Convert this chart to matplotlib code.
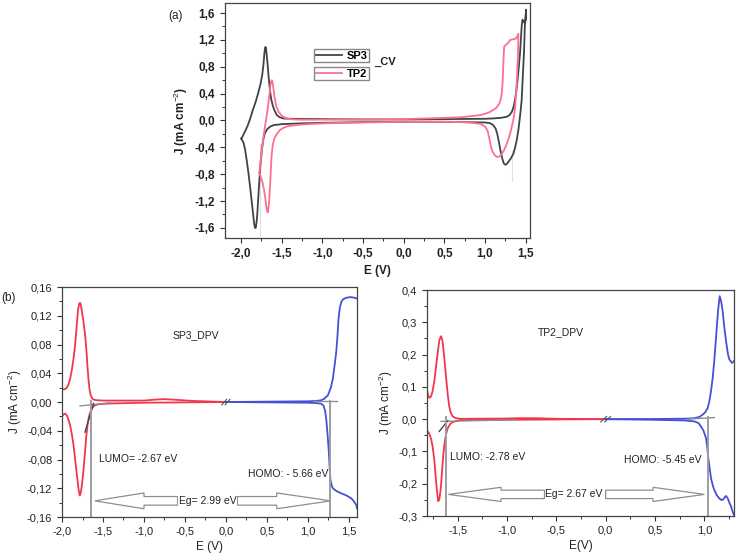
import numpy as np
import matplotlib
matplotlib.use("Agg")
import matplotlib.pyplot as plt
from matplotlib.ticker import FuncFormatter, AutoMinorLocator
from matplotlib.lines import Line2D

plt.rcParams['font.family'] = ['Liberation Sans', 'DejaVu Sans']
plt.rcParams['mathtext.fontset'] = 'custom'
plt.rcParams['mathtext.rm'] = 'Liberation Sans'
plt.rcParams['mathtext.it'] = 'Liberation Sans:italic'

# ---- (a) CV data ----
sp3_lo_x = [-1.997, -1.99, -1.97, -1.95, -1.93, -1.91, -1.89, -1.87, -1.85, -1.84, -1.83, -1.82, -1.81, -1.80, -1.79,
            -1.78, -1.77, -1.76, -1.745, -1.73, -1.71, -1.68, -1.64, -1.6, -1.5, -1.3, -1.0, -0.5, 0.0, 0.5,
            1.0, 1.06, 1.1, 1.13, 1.15, 1.17, 1.19, 1.21, 1.23, 1.25, 1.27, 1.29, 1.32, 1.35, 1.37, 1.39,
            1.41, 1.42, 1.435, 1.45, 1.46, 1.47, 1.48, 1.486, 1.49, 1.495, 1.50, 1.504]
sp3_lo_y = [-0.27, -0.29, -0.33, -0.44, -0.6, -0.78, -0.98, -1.2, -1.42, -1.53, -1.6, -1.6, -1.52, -1.38, -1.18,
            -0.98, -0.8, -0.63, -0.45, -0.3, -0.2, -0.13, -0.09, -0.07, -0.055, -0.045, -0.035, -0.025, -0.02, -0.02,
            -0.03, -0.04, -0.07, -0.12, -0.2, -0.32, -0.45, -0.56, -0.64, -0.66, -0.645, -0.61, -0.56, -0.49,
            -0.40, -0.29, -0.14, -0.04, 0.12, 0.30, 0.55, 0.80, 1.05, 1.29, 1.42, 1.5, 1.58, 1.65]
sp3_up_x = [1.504, 1.50, 1.49, 1.475, 1.46, 1.45, 1.44, 1.43, 1.415, 1.40, 1.385, 1.37, 1.35, 1.33, 1.30, 1.27,
            1.2, 1.1, 1.0, 0.5, 0.0, -0.5, -1.0, -1.4, -1.48, -1.53, -1.56, -1.59, -1.61, -1.63, -1.645, -1.66,
            -1.675, -1.687, -1.694, -1.70, -1.707, -1.715, -1.726, -1.74, -1.76, -1.787, -1.82, -1.86, -1.89,
            -1.92, -1.95, -1.975, -1.99, -1.997]
sp3_up_y = [1.65, 1.5, 1.45, 1.47, 1.5, 1.4, 1.2, 1.0, 0.8, 0.6, 0.45, 0.32, 0.2, 0.13, 0.08, 0.056,
            0.04, 0.03, 0.025, 0.02, 0.015, 0.015, 0.02, 0.025, 0.03, 0.05, 0.08, 0.15, 0.22, 0.32, 0.45, 0.63,
            0.85, 1.0, 1.08, 1.095, 1.07, 0.98, 0.82, 0.68, 0.55, 0.42, 0.28, 0.14, 0.02,
            -0.08, -0.16, -0.22, -0.255, -0.27]

tp2_lo_x = [-1.775, -1.755, -1.735, -1.715, -1.70, -1.69, -1.68, -1.672, -1.665, -1.655, -1.645, -1.635, -1.625,
            -1.61, -1.59, -1.56, -1.52, -1.48, -1.44, -1.3, -1.11, -0.9, -0.5, 0.0, 0.57, 0.8, 0.94, 1.0, 1.03,
            1.05, 1.07, 1.09, 1.12, 1.15, 1.17, 1.2, 1.23, 1.26, 1.29, 1.32, 1.35, 1.37, 1.385, 1.395, 1.405, 1.41]
tp2_lo_y = [-0.78, -0.85, -0.93, -1.05, -1.18, -1.28, -1.35, -1.37, -1.33, -1.2, -1.0, -0.75, -0.52,
            -0.36, -0.27, -0.2, -0.14, -0.11, -0.09, -0.065, -0.05, -0.04, -0.03, -0.02, -0.02, -0.03, -0.05, -0.09,
            -0.15, -0.25, -0.38, -0.46, -0.52, -0.545, -0.54, -0.51, -0.45, -0.37, -0.27, -0.14, 0.02, 0.2, 0.45,
            0.7, 1.0, 1.29]
tp2_up_x = [1.41, 1.40, 1.38, 1.35, 1.31, 1.28, 1.25, 1.235, 1.228, 1.222, 1.215, 1.205, 1.19, 1.17, 1.14, 1.10,
            1.05, 1.0, 0.94, 0.8, 0.69, 0.4, 0.0, -0.5, -1.0, -1.3, -1.4, -1.46, -1.5, -1.54, -1.57, -1.59, -1.605,
            -1.615, -1.623, -1.632, -1.642, -1.655, -1.67, -1.688, -1.705, -1.725, -1.746, -1.76, -1.775]
tp2_up_y = [1.29, 1.26, 1.22, 1.21, 1.20, 1.15, 1.12, 1.10, 0.95, 0.75, 0.55, 0.4, 0.3, 0.24, 0.19, 0.156,
            0.12, 0.1, 0.08, 0.06, 0.047, 0.035, 0.02, 0.015, 0.012, 0.012, 0.02, 0.04, 0.07, 0.13, 0.22, 0.36, 0.5,
            0.58, 0.60, 0.58, 0.5, 0.35, 0.2, 0.05, -0.08, -0.25, -0.44, -0.6, -0.78]

# ---- (b) SP3 DPV data ----
sp3_red_up_x = [-2.0, -1.984, -1.96, -1.94, -1.92, -1.9, -1.88, -1.86, -1.84, -1.82, -1.805, -1.79, -1.78, -1.77,
                -1.76, -1.74, -1.718, -1.70, -1.69, -1.678, -1.665, -1.65, -1.63, -1.616, -1.58, -1.49, -1.2,
                -1.0, -0.85, -0.75, -0.6, -0.4, 0.0]
sp3_red_up_y = [0.018, 0.0177, 0.018, 0.02, 0.025, 0.033, 0.045, 0.060, 0.08, 0.107, 0.128, 0.137, 0.138, 0.135,
                0.128, 0.113, 0.093, 0.068, 0.05, 0.0325, 0.018, 0.009, 0.005, 0.0035, 0.0025, 0.002, 0.002,
                0.002, 0.0035, 0.004, 0.003, 0.0015, 0.0]
sp3_red_lo_x = [-2.0, -1.984, -1.96, -1.94, -1.92, -1.9, -1.88, -1.86, -1.84, -1.82, -1.80, -1.785, -1.775, -1.76,
                -1.74, -1.72, -1.706, -1.69, -1.675, -1.657, -1.63, -1.6, -1.55, -1.4, -1.0, -0.5, 0.0]
sp3_red_lo_y = [-0.02, -0.0175, -0.016, -0.019, -0.025, -0.033, -0.045, -0.06, -0.08, -0.1, -0.12, -0.13, -0.128,
                -0.118, -0.097, -0.07, -0.05, -0.033, -0.022, -0.0145, -0.008, -0.0046, -0.003, -0.002, -0.001,
                -0.0005, 0.0]
sp3_blue_up_x = [0.0, 0.5, 1.0, 1.1, 1.162, 1.2, 1.22, 1.244, 1.26, 1.28, 1.305, 1.325, 1.346, 1.36, 1.374, 1.39,
                 1.407, 1.43, 1.468, 1.52, 1.57, 1.6]
sp3_blue_up_y = [0.0, 0.0005, 0.001, 0.0015, 0.0024, 0.0045, 0.007, 0.0093, 0.014, 0.02, 0.0325, 0.05, 0.0696,
                 0.09, 0.116, 0.131, 0.139, 0.143, 0.145, 0.146, 0.145, 0.144]
sp3_blue_lo_x = [0.0, 0.5, 1.0, 1.1, 1.162, 1.19, 1.21, 1.225, 1.24, 1.256, 1.265, 1.275, 1.29, 1.305, 1.35, 1.407,
                 1.47, 1.53, 1.56, 1.59, 1.6]
sp3_blue_lo_y = [0.0, -0.0005, -0.001, -0.0015, -0.0023, -0.005, -0.012, -0.025, -0.045, -0.07, -0.09, -0.108,
                 -0.116, -0.12, -0.124, -0.127, -0.13, -0.134, -0.138, -0.143, -0.148]

# ---- (b) TP2 DPV data ----
tp2_red_up_x = [-1.81, -1.80, -1.787, -1.77, -1.755, -1.736, -1.72, -1.70, -1.685, -1.668, -1.655, -1.645, -1.635,
                -1.62, -1.60, -1.585, -1.57, -1.55, -1.52, -1.466, -1.0, -0.9, -0.7, -0.5, 0.0]
tp2_red_up_y = [0.09, 0.075, 0.066, 0.07, 0.085, 0.117, 0.16, 0.21, 0.245, 0.257, 0.245, 0.22, 0.19,
                0.14, 0.076, 0.04, 0.02, 0.0085, 0.003, 0.001, 0.002, 0.003, 0.003, 0.001, 0.0]
tp2_red_lo_x = [-1.81, -1.787, -1.77, -1.753, -1.735, -1.719, -1.705, -1.696, -1.685, -1.675, -1.668, -1.655, -1.645,
                -1.635, -1.62, -1.60, -1.575, -1.55, -1.5, -1.466, -1.0, -0.5, 0.0]
tp2_red_lo_y = [-0.035, -0.045, -0.06, -0.085, -0.13, -0.19, -0.235, -0.254, -0.248, -0.225, -0.204, -0.15, -0.11,
                -0.08, -0.05, -0.028, -0.015, -0.009, -0.005, -0.003, -0.002, -0.001, 0.0]
tp2_blue_up_x = [0.0, 0.5, 0.8, 0.9, 0.95, 0.983, 1.01, 1.033, 1.05, 1.067, 1.085, 1.10, 1.115, 1.127, 1.14, 1.155,
                 1.17, 1.185, 1.2, 1.22, 1.24, 1.253, 1.28, 1.30]
tp2_blue_up_y = [0.0, 0.0005, 0.0015, 0.003, 0.007, 0.014, 0.022, 0.034, 0.055, 0.086, 0.13, 0.18, 0.24, 0.29,
                 0.34, 0.381, 0.365, 0.335, 0.29, 0.24, 0.2, 0.185, 0.174, 0.18]
tp2_blue_lo_x = [0.0, 0.5, 0.8, 0.9, 0.94, 0.966, 0.99, 1.017, 1.03, 1.04, 1.055, 1.067, 1.085, 1.10, 1.125, 1.15,
                 1.17, 1.185, 1.2, 1.21, 1.22, 1.236, 1.255, 1.27, 1.285, 1.30]
tp2_blue_lo_y = [0.0, -0.002, -0.004, -0.007, -0.012, -0.023, -0.035, -0.059, -0.09, -0.121, -0.155, -0.183, -0.205,
                 -0.219, -0.235, -0.245, -0.25, -0.25, -0.245, -0.24, -0.238, -0.245, -0.26, -0.27, -0.285, -0.297]

DARK = '#3f4446'
PINK = '#ff6f8e'
RED = '#f0384c'
BLUE = '#4650d6'
GRAY = '#8a8f92'


def comma_fmt(nd):
    def f(v, p):
        s = f"{v + 0.0:.{nd}f}"
        if float(s) == 0:
            s = s.lstrip('-')
        return s.replace('.', ',')
    return FuncFormatter(f)


def style_axes(ax, xticks, yticks, xnd, ynd, fs, weight='normal'):
    ax.set_xticks(xticks)
    ax.set_yticks(yticks)
    ax.xaxis.set_major_formatter(comma_fmt(xnd))
    ax.yaxis.set_major_formatter(comma_fmt(ynd))
    ax.xaxis.set_minor_locator(AutoMinorLocator(2))
    ax.yaxis.set_minor_locator(AutoMinorLocator(2))
    ax.tick_params(which='major', direction='out', length=3.5, width=0.8, colors='#333333',
                   labelsize=fs, top=False, right=False)
    ax.tick_params(which='minor', direction='out', length=2, width=0.7, colors='#333333',
                   top=False, right=False)
    for lab in ax.get_xticklabels() + ax.get_yticklabels():
        lab.set_fontweight(weight)
        lab.set_color('#222222')
    for s in ax.spines.values():
        s.set_color('#444444')
        s.set_linewidth(0.9)


fig = plt.figure(figsize=(7.42, 5.56), dpi=100)

# ---------------- (a) ----------------
ax = fig.add_axes([0.303, 0.572, 0.411, 0.4227])
ax.plot(sp3_lo_x + sp3_up_x, sp3_lo_y + sp3_up_y, color=DARK, lw=1.3)
ax.plot(tp2_lo_x + tp2_up_x, tp2_lo_y + tp2_up_y, color=PINK, lw=1.3)
ax.plot([-1.765, -1.765], [-0.35, -1.7], color='#e2e2e2', lw=0.8, zorder=0)
ax.plot([1.33, 1.33], [-0.45, -0.9], color='#e2e2e2', lw=0.8, zorder=0)
ax.set_xlim(-2.2, 1.55)
ax.set_ylim(-1.75, 1.75)
style_axes(ax, [-2.0, -1.5, -1.0, -0.5, 0.0, 0.5, 1.0, 1.5],
           [-1.6, -1.2, -0.8, -0.4, 0.0, 0.4, 0.8, 1.2, 1.6], 1, 1, 8.5, 'bold')
ax.set_xlabel('E (V)', fontsize=8.5, fontweight='bold', color='#222222', labelpad=4)
ax.set_ylabel('J (mA cm$^{-2}$)', fontsize=8.5, fontweight='bold', color='#222222', labelpad=3)

leg1 = ax.legend(handles=[Line2D([], [], color=DARK, lw=1.3)], labels=['SP3'],
                 loc='upper left', bbox_to_anchor=(314 / 742, 1 - 49 / 556), bbox_transform=fig.transFigure,
                 frameon=True, fancybox=False, edgecolor='#888888', framealpha=1,
                 fontsize=8, handlelength=2.4, handletextpad=0.4, borderpad=0.15, borderaxespad=0)
ax.add_artist(leg1)
leg2 = ax.legend(handles=[Line2D([], [], color=PINK, lw=1.3)], labels=['TP2'],
                 loc='upper left', bbox_to_anchor=(314 / 742, 1 - 67 / 556), bbox_transform=fig.transFigure,
                 frameon=True, fancybox=False, edgecolor='#888888', framealpha=1,
                 fontsize=8, handlelength=2.4, handletextpad=0.4, borderpad=0.15, borderaxespad=0)
for lg in (leg1, leg2):
    lg.get_frame().set_linewidth(1.0)
    for t in lg.get_texts():
        t.set_fontweight('bold')
fig.text(374 / 742, 1 - 62 / 556, '_CV', fontsize=8, fontweight='bold', va='center', ha='left', color='#222222')
fig.text(168 / 742, 1 - 16 / 556, '(a)', fontsize=8.5, va='center', ha='left', color='#222222')
fig.text(1 / 742, 1 - 298 / 556, '(b)', fontsize=8.5, va='center', ha='left', color='#222222')


def dpv_panel(ax, red_up, red_lo, blue_up, blue_lo, base_l, base_r, tang, vx, vtop, arrow, eg, lumo, homo, name):
    ax.plot(*red_up, color=RED, lw=1.3)
    ax.plot(*red_lo, color=RED, lw=1.3)
    ax.plot(*blue_up, color=BLUE, lw=1.3)
    ax.plot(*blue_lo, color=BLUE, lw=1.3)
    ax.plot(*base_l, color=GRAY, lw=1.0)
    ax.plot(*base_r, color=GRAY, lw=1.0)
    ax.plot(*tang, color='#444444', lw=1.0)
    ybot = ax.get_ylim()[0]
    for x, yt in zip(vx, vtop):
        ax.plot([x, x], [yt, ybot], color='#9a9ea0', lw=1.4)
    # break mark
    yr = ax.get_ylim()[1] - ybot
    for dx in (-0.02, 0.02):
        ax.plot([dx - 0.03, dx + 0.03], [-0.012 * yr, 0.012 * yr], color='#555555', lw=0.8)
    yc, hw, sw, l_tip, l_base, l_end, r_start, r_base, r_tip = arrow
    ax.arrow(l_end, yc, l_tip - l_end, 0, width=2 * sw, head_width=2 * hw, head_length=l_base - l_tip,
             length_includes_head=True, fill=False, edgecolor=GRAY, lw=0.9)
    ax.arrow(r_start, yc, r_tip - r_start, 0, width=2 * sw, head_width=2 * hw, head_length=r_tip - r_base,
             length_includes_head=True, fill=False, edgecolor=GRAY, lw=0.9)
    ax.text(eg[0], eg[1], eg[2], fontsize=7.5, ha='center', va='center', color='#222222',
            bbox=dict(facecolor='white', edgecolor='none', pad=0.5))
    ax.text(lumo[0], lumo[1], lumo[2], fontsize=7.5, ha='left', va='center', color='#222222')
    ax.text(homo[0], homo[1], homo[2], fontsize=7.5, ha='left', va='center', color='#222222')
    ax.text(name[0], name[1], name[2], fontsize=7.5, ha='center', va='center', color='#222222')


# ---------------- (b) left ----------------
axl = fig.add_axes([0.0836, 0.0701, 0.3976, 0.4137])
axl.set_xlim(-2.0, 1.6)
axl.set_ylim(-0.16, 0.16)
dpv_panel(axl, (sp3_red_up_x, sp3_red_up_y), (sp3_red_lo_x, sp3_red_lo_y),
          (sp3_blue_up_x, sp3_blue_up_y), (sp3_blue_lo_x, sp3_blue_lo_y),
          ([-1.78, -1.41], [-0.0055, -0.001]), ([1.06, 1.35], [0.001, 0.001]),
          ([-1.72, -1.616], [-0.042, -0.002]), [-1.645, 1.275], [0.002, 0.002],
          (-0.1375, 0.011, 0.006, -1.60, -1.0, -0.59, 0.14, 0.62, 1.28),
          (-0.225, -0.1375, 'Eg= 2.99 eV'), (-1.55, -0.079, 'LUMO= -2.67 eV'),
          (0.27, -0.1, 'HOMO: - 5.66 eV'), (-0.37, 0.093, 'SP3_DPV'))
style_axes(axl, [-2.0, -1.5, -1.0, -0.5, 0.0, 0.5, 1.0, 1.5],
           [-0.16, -0.12, -0.08, -0.04, 0.0, 0.04, 0.08, 0.12, 0.16], 1, 2, 8)
axl.set_xlabel('E (V)', fontsize=8.5, color='#222222', labelpad=3)
axl.set_ylabel('J (mA cm$^{-2}$)', fontsize=8.5, color='#222222', labelpad=2)

# ---------------- (b) right ----------------
axr = fig.add_axes([0.5755, 0.0719, 0.4137, 0.4065])
axr.set_xlim(-1.81, 1.3)
axr.set_ylim(-0.3, 0.4)
dpv_panel(axr, (tp2_red_up_x, tp2_red_up_y), (tp2_red_lo_x, tp2_red_lo_y),
          (tp2_blue_up_x, tp2_blue_up_y), (tp2_blue_lo_x, tp2_blue_lo_y),
          ([-1.668, -0.91], [-0.007, -0.002]), ([0.83, 1.10], [0.0, 0.005]),
          ([-1.686, -1.60], [-0.038, -0.005]), [-1.618, 1.033], [0.008, 0.008],
          (-0.233, 0.022, 0.013, -1.595, -1.06, -0.62, 0.0, 0.48, 1.0),
          (-0.32, -0.233, 'Eg= 2.67 eV'), (-1.58, -0.116, 'LUMO: -2.78 eV'),
          (0.19, -0.126, 'HOMO: -5.45 eV'), (-0.45, 0.27, 'TP2_DPV'))
style_axes(axr, [-1.5, -1.0, -0.5, 0.0, 0.5, 1.0],
           [-0.3, -0.2, -0.1, 0.0, 0.1, 0.2, 0.3, 0.4], 1, 1, 8)
axr.set_xlabel('E(V)', fontsize=8.5, color='#222222', labelpad=3)
axr.set_ylabel('J (mA cm$^{-2}$)', fontsize=8.5, color='#222222', labelpad=2)

fig.savefig('out.png', dpi=100)
